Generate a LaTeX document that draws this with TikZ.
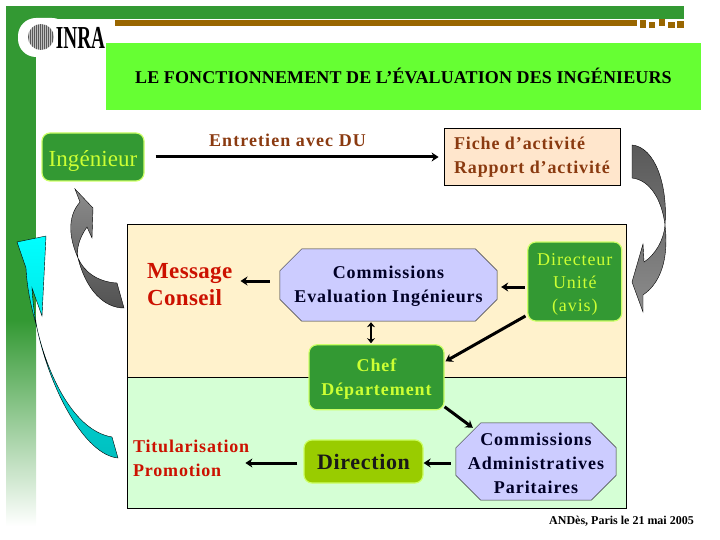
\documentclass[tikz,border=0pt]{standalone}
\usepackage{fontspec}
\setmainfont{Liberation Serif}
\usetikzlibrary{arrows.meta,positioning}
\definecolor{bargreen}{HTML}{339933}
\definecolor{titlegreen}{HTML}{66FF33}
\definecolor{barbrown}{HTML}{996600}
\definecolor{limetext}{HTML}{CCFF33}
\definecolor{limeedge}{HTML}{CCFF66}
\definecolor{oct}{HTML}{CCCCFF}
\definecolor{peach}{HTML}{FFE6CC}
\definecolor{upperpanel}{HTML}{FFF2CC}
\definecolor{lowerpanel}{HTML}{D5FFD5}
\definecolor{direction}{HTML}{99CC00}
\definecolor{brownlabel}{HTML}{8A3A10}
\definecolor{redlabel}{HTML}{CC1100}
\newcommand{\labfont}[3]{\fontsize{#1}{#2}\selectfont\addfontfeature{LetterSpace=#3}}
\newcommand{\octoutline}[2]{\filldraw[draw=black!80, line width=0.5pt, fill=oct]
  ([xshift=#2]#1.north west) -- ([xshift=-#2]#1.north east) -- ([yshift=-#2]#1.north east)
  -- ([yshift=#2]#1.south east) -- ([xshift=-#2]#1.south east) -- ([xshift=#2]#1.south west)
  -- ([yshift=#2]#1.south west) -- ([yshift=-#2]#1.north west) -- cycle;}

\begin{document}
\begin{tikzpicture}[
  x=1pt, y=-1pt,
  greenbox/.style={
    rectangle,
    rounded corners=8pt,
    draw=limeedge,
    line width=1.2pt,
    fill=bargreen,
    inner sep=0pt
  },
  greentext/.style={
    text=limetext,
    align=center,
    inner sep=0pt
  },
  octframe/.style={
    rectangle,
    inner sep=0pt
  },
  octtext/.style={
    text=black!85!blue,
    align=center,
    inner sep=0pt,
    yshift=-1.5pt,
    font=\bfseries\labfont{18}{24}{5.2}
  },
  panel/.style={
    rectangle,
    draw=black,
    line width=0.6pt,
    inner sep=0pt,
    minimum width=499pt
  },
  redlab/.style={text=redlabel, align=left, inner sep=0pt},
  link/.style={-{Stealth[length=7pt,width=9pt]}, line width=3pt},
  ribbon/.style={draw=black, line width=0.4pt}
]
\useasboundingbox (0,0) rectangle (720,540);

% frame
\fill[bargreen] (6,6) rectangle (684,19);
\fill[bargreen] (6,6) rectangle (36,320);
\shade[top color=bargreen, bottom color=white] (6,320) rectangle (36,526);
\fill[white, rounded corners=18pt] (18,18) rectangle (70,57);
\fill[white] (36,40) rectangle (70,70);
\fill[barbrown] (115,20) rectangle (637,26);
\fill[barbrown] (640,20) rectangle (646,28);
\fill[barbrown] (649,22) rectangle (655,28);
\fill[barbrown] (659,19) rectangle (665,26);
\fill[barbrown] (668,22) rectangle (675,28);
\fill[barbrown] (677,21) rectangle (684,28);

% logo
\begin{scope}
  \clip (41,37) circle (13);
  \fill[black!25] (28,24) rectangle (54,50);
  \foreach \i in {28,30,...,54}
    \draw[black!65, line width=0.8pt] (\i,24) -- (\i,50);
\end{scope}
\node[font=\bfseries\fontsize{32}{32}\selectfont, xscale=0.6, inner sep=0pt] (logo) at (80.5,38) {INRA};

\node[rectangle, fill=titlegreen, minimum width=595pt, minimum height=67pt, inner sep=0pt,
  font=\bfseries\labfont{18}{20}{0.7}] (title) at (403.5,76.5) {\raisebox{1.5pt}{LE FONCTIONNEMENT DE L’ÉVALUATION DES INGÉNIEURS}};

\node[greenbox, minimum width=102pt, minimum height=48pt,
  label={[greentext, yshift=-4pt, font=\labfont{23}{26}{0.3}]center:Ingénieur}] (ingenieur) at (93,157) {};
\node[rectangle, draw=black, line width=0.7pt, fill=peach, text=brownlabel, minimum width=176pt, minimum height=57pt,
  inner sep=0pt, align=left, font=\bfseries\labfont{18}{24}{5}, right=299pt of ingenieur] (fiche) {Fiche d’activité\\Rapport d’activité};
\node[text=brownlabel, inner sep=0pt, font=\bfseries\labfont{18}{24}{6}] (entretien) at (287.5,140) {Entretien avec DU};

\node[panel, fill=upperpanel, minimum height=153pt] (upper) at (376.5,300.5) {};
\node[panel, fill=lowerpanel, minimum height=131pt, below=0pt of upper] (lower) {};

\node[octframe, minimum width=217pt, minimum height=72pt] (comm) at (388.5,285) {};
\octoutline{comm}{22pt}
\node[octtext] (commtext) at (comm) {Commissions\\Evaluation Ingénieurs};
\node[greenbox, minimum width=94pt, minimum height=79pt,
  label={[greentext, yshift=-3pt, font=\labfont{18}{23}{5}]center:Directeur\\Unité\\(avis)},
  right=30pt of comm, yshift=3.5pt] (dirunit) {};
\node[greenbox, minimum width=135pt, minimum height=65pt,
  label={[greentext, yshift=-2pt, font=\bfseries\labfont{18}{24}{5.2}]center:Chef\\Département},
  below=23pt of comm, xshift=-12pt] (chef) {};
\node[redlab, font=\bfseries\labfont{23}{27}{1.5}, anchor=west] (message) at (147,284.5) {Message\\Conseil};
\node[octframe, minimum width=160pt, minimum height=77pt] (commadmin) at (536,461.5) {};
\octoutline{commadmin}{25pt}
\node[octtext] (admintext) at (commadmin) {Commissions\\Administratives\\Paritaires};
\node[greenbox, fill=direction, text=black!90, minimum width=119pt, minimum height=43pt,
  font=\bfseries\labfont{22}{26}{3}] (direction) at (363.5,461.5) {Direction};
\node[redlab, font=\bfseries\labfont{18}{24}{4.4}, anchor=west] (titular) at (133,458) {Titularisation\\Promotion};
\node[inner sep=0pt, font=\bfseries\labfont{12}{14}{0}] (andes) at (621.5,521) {ANDès, Paris le 21 mai 2005};

\draw[link, shorten <=11pt, shorten >=5pt] (ingenieur) -- (fiche);
\draw[link, shorten <=10pt, shorten >=8pt] ([yshift=4pt]comm.west) -- ([yshift=3.5pt]message.east);
\draw[link, shorten <=2pt, shorten >=4pt] ([yshift=-5.5pt]dirunit.west) -- ([yshift=-2pt]comm.east);
\draw[link, shorten <=2pt, shorten >=1pt] ([yshift=-33.5pt]dirunit.west) -- ([yshift=15.5pt]chef.east);
\draw[{Stealth[length=5pt,width=8pt]}-{Stealth[length=5pt,width=8pt]}, line width=2.4pt, shorten <=1pt, shorten >=1pt]
  ([xshift=-17.5pt]comm.south) -- ([xshift=-5.5pt]chef.north);
\draw[link] ([yshift=-29.5pt]chef.east) -- ([xshift=17pt,yshift=-5pt]commadmin.north west);
\draw[link, shorten <=5pt, shorten >=0pt] ([yshift=-1.5pt]commadmin.west) -- ([yshift=-1.5pt]direction.east);
\draw[link, shorten <=6pt, shorten >=-4pt] ([yshift=-1.5pt]direction.west) -- ([yshift=-5pt]titular.east);

% curved arrows
\path[ribbon, top color=black!45, bottom color=black!68]
  (75,189) -- (93,208) -- (92,238) -- (87,227) .. controls (80,237) and (76,248) .. (78,258)
  .. controls (84,272) and (98,282) .. (117,283) -- (124,308)
  .. controls (104,308) and (86,290) .. (78,258) .. controls (70,240) and (66,218) .. (80,202) -- cycle;
\path[ribbon, top color=black!65, bottom color=black!45]
  (632,145) .. controls (655,147) and (668,185) .. (665,225) .. controls (668,250) and (665,280) .. (643,295)
  -- (643,312) -- (632,282) -- (643,244) -- (644,262) .. controls (655,255) and (664,240) .. (665,225)
  .. controls (662,200) and (650,180) .. (632,178) -- cycle;
\path[ribbon, top color=cyan, bottom color=cyan!75!black]
  (17,242) -- (46,236) -- (42,316) -- (32,288) .. controls (33,305) and (35,318) .. (37,328)
  .. controls (45,365) and (70,430) .. (112,437) -- (118,458)
  .. controls (85,455) and (50,390) .. (37,328) .. controls (32,310) and (27,290) .. (26,268) -- cycle;

\end{tikzpicture}
\end{document}
